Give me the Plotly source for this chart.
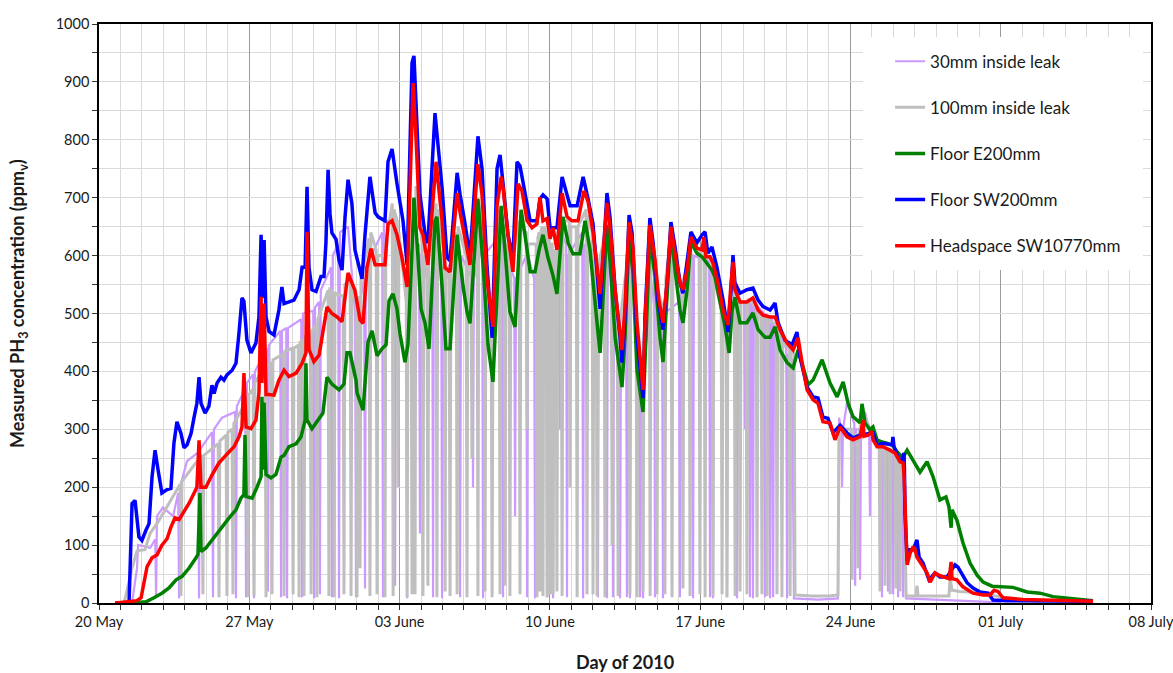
import pandas as pd
import plotly.graph_objects as go

START = pd.Timestamp("2010-05-20")

# (days after 20 May 2010, PH3 ppmv)
purple_30mm = [
    (1.54, 0), (1.77, 60), (1.82, 100), (2.14, 98), (2.38, 95),
    (2.62, 110), (2.66, 10), (2.70, 150), (2.98, 165), (3.45, 150),
    (3.69, 190), (3.73, 8), (3.77, 200), (4.10, 245),
    (4.62, 260), (4.66, 8), (4.70, 265),
    (5.27, 295), (5.31, 10), (5.35, 300), (5.73, 320),
    (6.34, 330), (6.38, 8), (6.42, 340),
    (6.81, 370), (6.85, 10), (6.89, 380),
    (7.18, 395), (7.22, 8), (7.26, 400),
    (7.83, 440), (7.87, 20), (7.91, 445),
    (8.44, 470), (8.48, 10), (8.52, 470),
    (8.72, 475), (8.76, 8), (8.80, 475),
    (9.42, 490), (9.46, 10), (9.50, 500),
    (9.98, 505), (10.02, 8), (10.06, 510),
    (10.25, 520), (10.29, 15), (10.33, 540),
    (10.81, 580), (10.85, 10), (10.89, 600),
    (11.14, 620), (11.18, 8), (11.22, 640), (11.60, 650),
    (11.93, 500), (11.97, 10), (12.01, 490),
    (12.35, 560), (12.39, 25), (12.43, 580),
    (13.19, 640), (13.23, 10), (13.27, 660),
    (13.75, 660), (13.79, 30), (13.83, 640),
    (14.31, 560), (14.35, 8), (14.39, 600),
    (14.91, 620), (14.95, 120), (14.99, 600),
    (15.52, 640), (15.56, 10), (15.60, 660),
    (15.94, 600), (15.98, 8), (16.02, 560),
    (16.78, 620), (16.82, 10), (16.86, 600),
    (17.38, 560), (17.42, 200), (17.46, 560),
    (17.85, 620), (17.89, 8), (17.93, 600),
    (18.78, 640), (18.82, 10), (18.86, 620),
    (19.34, 560), (19.38, 150), (19.42, 560),
    (19.90, 600), (19.94, 10), (19.98, 600),
    (20.27, 560), (20.31, 8), (20.35, 580),
    (20.83, 620), (20.87, 10), (20.91, 600),
    (21.11, 580), (21.15, 8), (21.19, 580),
    (21.43, 640), (21.47, 300), (21.51, 640),
    (21.76, 620), (21.80, 10), (21.84, 600),
    (22.51, 640), (22.55, 8), (22.59, 620),
    (23.20, 560), (23.24, 10), (23.28, 560),
    (23.62, 640), (23.66, 8), (23.70, 620),
    (23.90, 560), (23.94, 10), (23.98, 520),
    (24.23, 460), (24.27, 8), (24.31, 440),
    (24.55, 540), (24.59, 10), (24.63, 560),
    (24.69, 580), (24.73, 8), (24.77, 600),
    (25.16, 400), (25.20, 10), (25.24, 420),
    (25.30, 380), (25.34, 8), (25.38, 420),
    (25.86, 560), (25.90, 10), (25.94, 540),
    (26.23, 480), (26.27, 8), (26.31, 500),
    (27.02, 520), (27.06, 10), (27.10, 540),
    (27.49, 600), (27.53, 250), (27.57, 600),
    (27.63, 600), (27.67, 8), (27.71, 600),
    (28.42, 590), (28.46, 10), (28.50, 580),
    (28.56, 570), (28.60, 8), (28.64, 560),
    (29.21, 470), (29.25, 10), (29.29, 480),
    (29.68, 520), (29.72, 8), (29.76, 520),
    (30.05, 520), (30.09, 300), (30.13, 520),
    (30.28, 520), (30.32, 10), (30.36, 520),
    (30.42, 520), (30.46, 8), (30.50, 520),
    (30.98, 500), (31.02, 10), (31.06, 500),
    (31.22, 490), (31.26, 8), (31.30, 490),
    (31.36, 490), (31.40, 10), (31.44, 480),
    (32.01, 440), (32.05, 8), (32.09, 430),
    (32.28, 420), (32.37, 8), (33.50, 6), (34.42, 8), (34.47, 320),
    (34.57, 300), (34.61, 200), (34.65, 300), (34.84, 345),
    (35.18, 310), (35.22, 30), (35.26, 300),
    (35.41, 300), (35.45, 40), (35.49, 290), (35.68, 330),
    (35.87, 300), (35.91, 150), (35.95, 290),
    (36.43, 270), (36.47, 10), (36.51, 270),
    (36.71, 265), (36.75, 20), (36.79, 262),
    (36.95, 260), (36.99, 15), (37.03, 255),
    (37.18, 250), (37.22, 10), (37.26, 245),
    (37.41, 240), (37.45, 10), (37.49, 235),
    (37.55, 235), (37.59, 8), (38.70, 6), (40.10, 4), (41.50, 2), (41.97, 1),
]

gray_100mm = [
    (1.17, 0), (1.54, 60), (1.77, 90), (2.14, 92), (2.38, 120), (2.75, 140),
    (3.07, 160), (3.54, 190),
    (3.78, 205), (3.82, 12), (3.86, 210), (4.47, 240),
    (4.80, 255), (4.84, 15), (4.88, 255),
    (5.55, 275), (5.59, 10), (5.63, 280),
    (5.92, 290), (5.96, 12), (6.00, 295),
    (6.20, 300), (6.24, 15), (6.28, 310),
    (6.90, 350), (6.94, 10), (6.98, 360),
    (7.18, 370), (7.22, 12), (7.26, 380),
    (7.74, 410), (7.78, 10), (7.82, 410),
    (8.02, 415), (8.06, 15), (8.10, 420),
    (8.58, 430), (8.62, 12), (8.66, 435),
    (9.00, 440), (9.04, 15), (9.08, 440),
    (9.28, 445), (9.32, 10), (9.36, 450),
    (9.51, 455), (9.55, 12), (9.59, 460),
    (9.84, 465), (9.88, 15), (9.92, 470),
    (10.11, 480), (10.15, 10), (10.19, 490),
    (10.67, 540), (10.71, 12), (10.75, 545),
    (10.91, 530), (10.95, 10), (10.99, 535),
    (11.37, 530), (11.41, 15), (11.45, 550),
    (11.70, 560), (11.74, 12), (11.78, 550),
    (11.98, 520), (12.02, 10), (12.06, 520),
    (12.12, 530), (12.16, 60), (12.20, 560),
    (12.58, 630), (12.62, 12), (12.66, 640),
    (12.91, 610), (12.95, 15), (12.99, 600),
    (13.28, 600), (13.32, 10), (13.36, 620),
    (13.66, 690), (13.70, 12), (13.74, 680),
    (13.89, 660), (13.93, 200), (13.97, 640),
    (14.31, 520), (14.35, 10), (14.39, 560),
    (14.54, 560), (14.58, 15), (14.62, 640),
    (14.68, 700), (14.72, 15), (14.76, 720),
    (15.05, 620), (15.09, 12), (15.13, 600),
    (15.28, 560), (15.32, 30), (15.36, 600),
    (15.70, 690), (15.74, 10), (15.78, 680),
    (16.08, 600), (16.12, 20), (16.16, 580),
    (16.31, 560), (16.35, 12), (16.39, 570),
    (16.64, 640), (16.68, 15), (16.72, 650),
    (17.10, 600), (17.14, 10), (17.18, 590),
    (17.33, 580), (17.37, 250), (17.41, 620),
    (17.61, 700), (17.65, 12), (17.69, 690),
    (17.94, 600), (17.98, 20), (18.02, 560),
    (18.27, 470), (18.31, 10), (18.35, 480),
    (18.64, 680), (18.68, 15), (18.72, 680),
    (18.87, 640), (18.91, 30), (18.95, 620),
    (19.10, 600), (19.14, 12), (19.18, 580),
    (19.57, 660), (19.61, 15), (19.65, 650),
    (19.90, 640), (19.94, 300), (19.98, 620),
    (20.36, 620), (20.40, 10), (20.44, 630),
    (20.50, 640), (20.54, 20), (20.58, 640),
    (20.64, 650), (20.68, 12), (20.72, 650),
    (20.83, 640), (20.87, 10), (20.91, 640),
    (20.97, 630), (21.01, 15), (21.05, 620),
    (21.11, 620), (21.15, 15), (21.19, 610),
    (21.29, 600), (21.33, 20), (21.37, 640),
    (21.53, 670), (21.57, 12), (21.61, 660),
    (21.90, 660), (21.94, 200), (21.98, 650),
    (22.23, 650), (22.27, 10), (22.31, 650),
    (22.69, 680), (22.73, 15), (22.77, 670),
    (22.97, 640), (23.01, 15), (23.05, 620),
    (23.16, 600), (23.20, 12), (23.24, 580),
    (23.53, 630), (23.57, 10), (23.61, 660),
    (23.86, 620), (23.90, 100), (23.94, 560),
    (24.14, 500), (24.18, 12), (24.22, 470),
    (24.69, 620), (24.73, 15), (24.77, 640),
    (25.02, 500), (25.06, 10), (25.10, 460),
    (25.30, 380), (25.34, 20), (25.38, 420),
    (25.63, 650), (25.67, 12), (25.71, 640),
    (25.95, 560), (25.99, 15), (26.03, 540),
    (26.32, 500), (26.36, 15), (26.40, 560),
    (26.65, 640), (26.69, 10), (26.73, 620),
    (27.16, 540), (27.20, 25), (27.24, 560),
    (27.49, 600), (27.53, 12), (27.57, 620),
    (27.95, 610), (27.99, 15), (28.03, 610),
    (28.19, 610), (28.23, 10), (28.27, 600),
    (28.56, 590), (28.60, 12), (28.64, 580),
    (28.98, 520), (29.02, 15), (29.06, 500),
    (29.21, 480), (29.25, 10), (29.29, 500),
    (29.59, 560), (29.63, 12), (29.67, 540),
    (29.82, 520), (29.86, 20), (29.90, 520),
    (30.14, 520), (30.18, 15), (30.22, 525),
    (30.61, 510), (30.65, 10), (30.69, 500),
    (30.84, 500), (30.88, 15), (30.92, 495),
    (31.08, 490), (31.12, 12), (31.16, 490),
    (31.54, 480), (31.58, 15), (31.62, 470),
    (31.77, 460), (31.81, 10), (31.85, 450),
    (32.15, 440), (32.19, 12), (32.23, 440),
    (32.38, 430), (32.42, 14), (33.20, 12), (34.00, 12), (34.42, 14), (34.47, 300),
    (35.04, 300), (35.08, 40), (35.12, 290),
    (35.31, 290), (35.35, 60), (35.39, 290), (35.59, 330), (35.91, 300),
    (36.34, 275), (36.38, 20), (36.42, 272),
    (36.57, 270), (36.61, 30), (36.65, 265),
    (36.81, 265), (36.85, 15), (36.89, 260),
    (37.08, 258), (37.12, 25), (37.16, 250),
    (37.27, 245), (37.31, 20), (37.35, 240),
    (37.50, 240), (37.59, 12), (38.05, 12), (38.10, 30), (38.15, 12),
    (39.59, 12), (39.64, 45), (39.73, 22), (40.10, 20), (40.80, 18),
    (41.50, 14), (42.43, 8), (43.83, 3),
]

green_e200 = [
    (1.54, 0), (2.19, 2), (2.56, 9), (2.93, 17), (3.26, 26), (3.59, 40), (3.87, 46),
    (4.19, 60), (4.52, 78), (4.61, 84), (4.70, 190), (4.75, 89), (4.98, 95),
    (5.26, 109), (5.59, 126), (5.82, 137), (6.06, 147), (6.38, 161), (6.61, 181),
    (6.75, 187), (6.80, 290), (6.85, 184), (7.13, 181), (7.36, 200), (7.55, 218),
    (7.59, 356), (7.64, 230), (7.69, 346), (7.78, 222), (8.01, 216), (8.24, 222),
    (8.48, 252), (8.62, 255), (8.85, 270), (9.18, 275), (9.41, 287), (9.60, 316),
    (9.64, 414), (9.69, 316), (9.92, 301), (10.15, 313), (10.43, 328), (10.62, 390),
    (10.85, 378), (11.18, 368), (11.41, 378), (11.55, 432), (11.69, 432),
    (11.97, 385), (12.02, 363), (12.30, 333), (12.53, 451), (12.72, 470),
    (12.95, 427), (13.18, 439), (13.37, 446), (13.51, 522), (13.69, 534),
    (13.88, 508), (14.02, 465), (14.25, 416), (14.39, 446), (14.58, 610),
    (14.67, 700), (14.86, 597), (15.00, 508), (15.19, 483), (15.37, 439),
    (15.65, 660), (15.74, 667), (15.98, 546), (16.16, 439), (16.35, 439),
    (16.68, 636), (16.96, 546), (17.14, 503), (17.28, 483), (17.65, 698),
    (17.89, 584), (18.12, 446), (18.35, 382), (18.54, 546), (18.73, 686),
    (18.91, 610), (19.14, 503), (19.38, 477), (19.66, 679), (19.84, 636),
    (20.08, 572), (20.31, 572), (20.50, 610), (20.68, 636), (20.91, 597),
    (21.15, 565), (21.33, 534), (21.61, 667), (21.85, 622), (22.08, 603),
    (22.40, 603), (22.64, 660), (22.87, 610), (23.20, 483), (23.34, 432),
    (23.66, 653), (23.80, 592), (24.04, 459), (24.36, 373), (24.50, 459),
    (24.69, 632), (24.87, 570), (25.06, 402), (25.34, 330), (25.43, 420),
    (25.66, 632), (25.90, 563), (26.13, 459), (26.27, 416), (26.46, 528),
    (26.64, 641), (26.83, 575), (27.06, 506), (27.20, 484), (27.39, 541),
    (27.57, 624), (27.85, 604), (28.09, 598), (28.32, 587), (28.55, 575),
    (28.69, 563), (28.92, 523), (29.16, 477), (29.35, 432), (29.49, 506),
    (29.62, 528), (29.86, 484), (30.18, 484), (30.46, 501), (30.70, 472),
    (31.02, 459), (31.26, 459), (31.49, 477), (31.72, 437), (32.05, 415),
    (32.33, 406), (32.56, 437), (32.79, 408), (33.03, 377), (33.26, 385),
    (33.68, 420), (34.05, 380), (34.38, 356), (34.66, 382), (34.89, 345),
    (35.12, 322), (35.45, 311), (35.54, 344), (35.68, 311), (35.91, 299),
    (36.05, 304), (36.24, 282), (36.47, 278), (36.70, 276), (36.94, 273),
    (37.22, 259), (37.45, 252), (37.64, 264), (37.92, 247), (38.24, 226),
    (38.57, 244), (38.85, 218), (39.17, 178), (39.45, 183), (39.59, 166),
    (39.69, 130), (39.73, 161), (39.96, 143), (40.24, 104), (40.57, 69),
    (40.90, 48), (41.18, 36), (41.60, 29), (41.97, 28), (42.57, 27),
    (43.23, 19), (43.83, 17), (44.44, 11), (45.37, 7), (46.30, 4),
]

blue_sw200 = [
    (0.75, 0), (1.40, 0), (1.54, 172), (1.68, 177), (1.86, 114), (2.00, 108),
    (2.19, 126), (2.33, 137), (2.47, 218), (2.61, 264), (2.75, 230), (2.93, 190),
    (3.17, 196), (3.35, 198), (3.49, 276), (3.63, 313), (3.82, 293), (3.96, 268),
    (4.10, 273), (4.29, 293), (4.43, 321), (4.56, 345), (4.66, 390), (4.75, 345),
    (4.94, 328), (5.12, 340), (5.26, 376), (5.36, 362), (5.50, 380), (5.68, 390),
    (5.82, 385), (5.96, 394), (6.20, 402), (6.38, 414), (6.52, 466), (6.66, 527),
    (6.75, 521), (6.89, 454), (7.08, 432), (7.31, 449), (7.45, 494), (7.55, 636),
    (7.59, 527), (7.69, 627), (7.78, 494), (7.92, 469), (8.15, 463), (8.38, 506),
    (8.52, 546), (8.62, 517), (8.85, 520), (9.08, 523), (9.32, 541), (9.46, 580),
    (9.60, 580), (9.69, 719), (9.78, 580), (9.92, 541), (10.11, 538), (10.34, 564),
    (10.48, 564), (10.57, 622), (10.67, 748), (10.76, 672), (10.85, 639),
    (11.04, 628), (11.18, 592), (11.32, 575), (11.46, 667), (11.60, 731),
    (11.78, 690), (11.92, 610), (12.25, 560), (12.39, 636), (12.62, 736),
    (12.86, 674), (13.00, 667), (13.32, 660), (13.46, 762), (13.65, 784),
    (13.88, 724), (14.16, 660), (14.35, 584), (14.58, 933), (14.67, 945),
    (14.81, 812), (14.95, 705), (15.19, 636), (15.32, 622), (15.65, 846),
    (15.98, 717), (16.21, 597), (16.35, 591), (16.68, 743), (16.82, 705),
    (17.05, 655), (17.28, 597), (17.65, 806), (17.84, 750), (18.07, 584),
    (18.31, 458), (18.54, 750), (18.68, 774), (18.82, 724), (19.05, 636),
    (19.28, 597), (19.47, 762), (19.61, 755), (19.75, 724), (20.08, 660),
    (20.40, 660), (20.54, 698), (20.68, 705), (20.87, 698), (21.01, 648),
    (21.33, 648), (21.57, 736), (21.80, 705), (21.94, 686), (22.27, 686),
    (22.55, 736), (22.78, 698), (23.01, 655), (23.34, 508), (23.66, 708),
    (23.80, 667), (24.04, 541), (24.27, 459), (24.36, 415), (24.50, 494),
    (24.69, 670), (24.83, 639), (25.06, 459), (25.34, 354), (25.43, 494),
    (25.66, 665), (25.81, 622), (26.04, 523), (26.27, 472), (26.46, 553),
    (26.64, 658), (26.83, 615), (27.06, 553), (27.20, 535), (27.39, 587),
    (27.57, 641), (27.85, 622), (28.09, 636), (28.23, 641), (28.36, 604),
    (28.55, 615), (28.78, 580), (29.07, 523), (29.30, 468), (29.44, 541),
    (29.53, 601), (29.62, 553), (29.86, 535), (30.18, 541), (30.46, 544),
    (30.70, 523), (30.93, 512), (31.26, 506), (31.49, 518), (31.63, 484),
    (31.95, 454), (32.28, 446), (32.51, 468), (32.65, 425), (32.98, 373),
    (33.26, 356), (33.49, 354), (33.72, 321), (33.95, 319), (34.19, 294),
    (34.52, 307), (34.84, 294), (35.12, 285), (35.45, 290), (35.91, 294),
    (36.05, 294), (36.24, 273), (36.52, 276), (36.94, 273), (36.98, 287),
    (37.03, 270), (37.22, 252), (37.40, 244), (37.50, 259), (37.54, 155),
    (37.64, 74), (37.73, 92), (37.92, 92), (38.10, 109), (38.20, 79),
    (38.38, 69), (38.66, 40), (38.94, 52), (39.17, 45), (39.50, 45),
    (39.69, 57), (39.87, 66), (40.01, 62), (40.43, 35), (40.71, 26),
    (41.04, 19), (41.41, 17), (41.64, 5), (42.29, 4), (46.30, 3),
]

red_headspace = [
    (0.79, 0), (1.77, 4), (1.96, 9), (2.10, 40), (2.24, 63), (2.47, 78), (2.70, 83),
    (2.93, 100), (3.17, 111), (3.35, 131), (3.54, 147), (3.73, 144), (3.96, 157),
    (4.19, 172), (4.43, 190), (4.56, 200), (4.66, 281), (4.75, 200), (4.98, 200),
    (5.26, 221), (5.59, 242), (5.82, 252), (6.06, 261), (6.29, 270), (6.52, 287),
    (6.66, 304), (6.75, 397), (6.85, 304), (7.08, 301), (7.31, 316), (7.45, 363),
    (7.55, 529), (7.59, 380), (7.69, 517), (7.78, 360), (7.92, 360), (8.15, 359),
    (8.38, 385), (8.62, 402), (8.85, 391), (9.18, 397), (9.46, 414), (9.64, 432),
    (9.69, 641), (9.78, 438), (10.01, 417), (10.25, 428), (10.39, 459),
    (10.62, 511), (10.85, 500), (11.09, 494), (11.32, 486), (11.51, 541),
    (11.60, 570), (11.78, 553), (11.92, 540), (12.16, 489), (12.30, 483),
    (12.48, 579), (12.67, 612), (12.86, 584), (13.00, 584), (13.32, 584),
    (13.46, 655), (13.65, 660), (13.88, 636), (14.11, 597), (14.35, 546),
    (14.49, 736), (14.63, 898), (14.77, 800), (14.95, 648), (15.09, 636),
    (15.32, 584), (15.70, 762), (15.98, 660), (16.12, 579), (16.35, 572),
    (16.68, 708), (16.82, 674), (17.05, 629), (17.28, 584), (17.65, 758),
    (17.84, 705), (18.07, 560), (18.35, 477), (18.54, 686), (18.73, 736),
    (18.82, 717), (19.05, 636), (19.28, 572), (19.52, 724), (19.70, 712),
    (19.94, 660), (20.17, 648), (20.40, 655), (20.54, 701), (20.68, 660),
    (20.87, 664), (21.01, 629), (21.15, 648), (21.33, 610), (21.57, 708),
    (21.80, 667), (22.03, 660), (22.31, 660), (22.59, 712), (22.78, 693),
    (23.01, 641), (23.34, 534), (23.66, 691), (23.80, 650), (24.04, 541),
    (24.36, 437), (24.50, 511), (24.69, 658), (24.87, 615), (25.06, 484),
    (25.34, 368), (25.43, 484), (25.66, 653), (25.90, 592), (26.08, 523),
    (26.27, 484), (26.46, 553), (26.64, 650), (26.83, 604), (27.06, 553),
    (27.20, 541), (27.39, 575), (27.57, 632), (27.85, 613), (28.09, 610),
    (28.18, 632), (28.27, 598), (28.46, 598), (28.60, 587), (28.83, 553),
    (29.07, 506), (29.30, 480), (29.44, 553), (29.53, 589), (29.62, 541),
    (29.86, 520), (30.18, 520), (30.46, 527), (30.70, 506), (30.93, 497),
    (31.26, 494), (31.49, 494), (31.72, 472), (32.05, 449), (32.33, 437),
    (32.56, 458), (32.75, 415), (32.98, 368), (33.26, 351), (33.49, 345),
    (33.72, 313), (34.05, 311), (34.28, 282), (34.52, 304), (34.84, 287),
    (35.12, 282), (35.45, 287), (35.59, 316), (35.63, 288), (35.82, 290),
    (36.01, 296), (36.05, 282), (36.24, 270), (36.52, 270), (36.84, 264),
    (37.08, 259), (37.31, 244), (37.45, 242), (37.50, 220), (37.59, 97),
    (37.64, 66), (37.78, 86), (37.92, 97), (38.01, 92), (38.10, 79),
    (38.33, 66), (38.57, 52), (38.71, 36), (38.94, 52), (39.17, 47),
    (39.41, 45), (39.60, 42), (39.69, 71), (39.73, 42), (39.96, 40),
    (40.24, 28), (40.71, 17), (41.18, 14), (41.50, 14), (41.69, 22),
    (41.87, 20), (42.11, 9), (43.04, 6), (44.62, 4), (46.30, 3),
]

series_names = ["30mm inside leak", "100mm inside leak", "Floor E200mm",
                "Floor SW200mm", "Headspace SW10770mm"]
series_data = [purple_30mm, gray_100mm, green_e200, blue_sw200, red_headspace]
series_colors = ["#CC99FF", "#BFBFBF", "#008000", "#0000FF", "#FF0000"]
series_widths = [2.2, 3, 3.5, 3.5, 3.5]

FONT = "Lato, 'Open Sans', sans-serif"
TEXT = "#1a1a1a"

fig = go.Figure()
for name, pairs, color, width in zip(series_names, series_data,
                                     series_colors, series_widths):
    days = [p[0] for p in pairs]
    ppm = [p[1] for p in pairs]
    fig.add_trace(go.Scatter(
        x=START + pd.to_timedelta(days, unit="D"),
        y=ppm,
        mode="lines",
        name=name,
        legendgroup=name,
        line=dict(color=color, width=width),
    ))

DAY_MS = 86400000

fig.update_layout(
    width=1173,
    height=673,
    margin=dict(l=99, r=22, t=24, b=70, autoexpand=False),
    paper_bgcolor="white",
    plot_bgcolor="white",
    font=dict(family=FONT, size=14.5, color=TEXT),
    showlegend=True,
    legend=dict(
        x=0.752, y=0.966, xanchor="left", yanchor="top",
        bgcolor="rgba(0,0,0,0)",
        font=dict(family=FONT, size=17, color=TEXT),
        traceorder="grouped",
        tracegroupgap=21,
        itemwidth=30,
    ),
    xaxis=dict(
        type="date",
        range=["2010-05-20", "2010-07-08"],
        tick0="2010-05-20",
        dtick=7 * DAY_MS,
        tickformat="%d %B",
        ticklabeloverflow="allow",
        automargin=False,
        ticks="outside",
        ticklen=5,
        tickcolor="#333333",
        showgrid=True,
        gridcolor="#9A9A9A",
        gridwidth=1,
        minor=dict(dtick=DAY_MS, showgrid=True, gridcolor="#DADADA",
                   ticks="outside", ticklen=5, tickcolor="#333333"),
        showline=True,
        linecolor="black",
        linewidth=1.5,
        mirror=True,
        zeroline=False,
        tickfont=dict(family=FONT, size=14.5, color=TEXT),
    ),
    yaxis=dict(
        range=[0, 1000],
        dtick=100,
        automargin=False,
        ticks="outside",
        ticklen=5,
        tickcolor="#333333",
        showgrid=True,
        gridcolor="#DADADA",
        minor=dict(dtick=50, showgrid=True, gridcolor="#DADADA",
                   ticks="outside", ticklen=5, tickcolor="#333333"),
        showline=True,
        linecolor="black",
        linewidth=1.5,
        mirror=True,
        zeroline=False,
        tickfont=dict(family=FONT, size=14.5, color=TEXT),
    ),
    shapes=[dict(
        type="rect", xref="paper", yref="paper",
        x0=0.7262, x1=0.9924, y0=0.5751, y1=0.9775,
        fillcolor="white", line=dict(width=0), layer="above",
    )],
    annotations=[
        dict(text="<b>Measured PH<sub>3</sub> concentration (ppm<sub>v</sub>)</b>",
             xref="paper", yref="paper", x=-0.077, y=0.518,
             xanchor="center", yanchor="middle", textangle=-90,
             showarrow=False, font=dict(family=FONT, size=18, color=TEXT)),
        dict(text="<b>Day of 2010</b>",
             xref="paper", yref="paper", x=0.5, y=-0.102,
             xanchor="center", yanchor="middle",
             showarrow=False, font=dict(family=FONT, size=18, color=TEXT)),
    ],
)

fig.write_html("out.html")
